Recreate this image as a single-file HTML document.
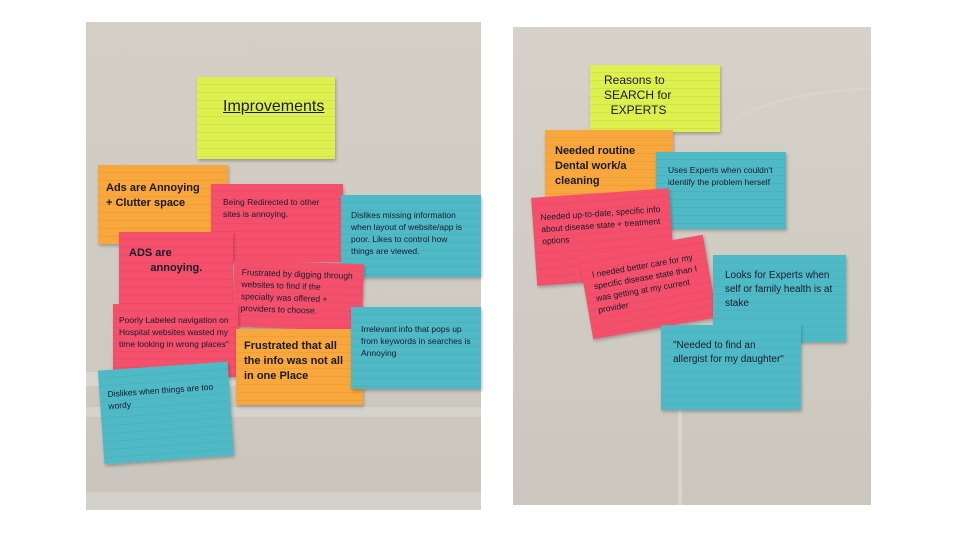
<!DOCTYPE html>
<html><head><meta charset="utf-8"><style>
body{margin:0;width:960px;height:540px;background:#fff;position:relative;overflow:hidden;font-family:"Liberation Sans",sans-serif}
.ph{position:absolute;overflow:hidden}
.n{position:absolute;box-sizing:border-box;color:#1a1a2a;font-size:8.5px;line-height:12px;padding:6px 8px;box-shadow:1px 2px 3px rgba(0,0,0,.25)}
.y{background:repeating-linear-gradient(180deg,#dcf04e 0 7px,#d0e24c 7px 8px)}
.o{background:repeating-linear-gradient(180deg,#f7a73c 0 7px,#ee9e3b 7px 8px)}
.p{background:repeating-linear-gradient(180deg,#f4506c 0 7px,#ea4c69 7px 8px)}
.b{background:repeating-linear-gradient(180deg,#4fbac6 0 7px,#49b1bf 7px 8px)}
.big{font-size:11px;font-weight:bold;line-height:15px}
</style></head><body>
<div class="ph" style="left:86px;top:22px;width:395px;height:488px;background:linear-gradient(180deg,#d3cfc7 0%,#cfcbc3 60%,#c9c5bd 100%)">
  <div style="position:absolute;left:0;top:350px;width:395px;height:14px;background:#d9d6cf"></div>
  <div style="position:absolute;left:0;top:385px;width:395px;height:10px;background:#d6d3cc"></div>
  <div style="position:absolute;left:0;top:470px;width:395px;height:18px;background:#d4d1ca"></div>
</div>
<div class="ph" style="left:513px;top:27px;width:358px;height:478px;background:linear-gradient(180deg,#d6d2ca,#cbc7bf)">
  <div style="position:absolute;left:165px;top:260px;width:4px;height:218px;background:#d9d6cf"></div>
  <div style="position:absolute;left:200px;top:60px;width:170px;height:60px;border-top:3px solid #d9d5ce;border-radius:100% 0 0 0"></div>
</div>

<div class="n y" style="left:197px;top:77px;width:138px;height:82px;font-size:16px;padding:24px 0 0 26px;text-decoration:underline">Improvements</div>
<div class="n o big" style="left:98px;top:165px;width:130px;height:79px;padding-top:16px">Ads are Annoying<br>+ Clutter space</div>
<div class="n p" style="left:211px;top:184px;width:132px;height:78px;padding:12px 12px">Being Redirected to other sites is annoying.</div>
<div class="n b" style="left:341px;top:195px;width:140px;height:82px;padding:14px 10px">Dislikes missing information when layout of website/app is poor. Likes to control how things are viewed.</div>
<div class="n p big" style="left:119px;top:232px;width:114px;height:73px;padding:14px 10px">ADS are<br>&nbsp;&nbsp;&nbsp;&nbsp;&nbsp;&nbsp;&nbsp;annoying.</div>
<div class="n p" style="left:233px;top:262px;width:130px;height:67px;padding:6px 8px;transform:rotate(2deg)">Frustrated by digging through websites to find if the specialty was offered + providers to choose.</div>
<div class="n p" style="left:113px;top:304px;width:125px;height:73px;padding:10px 6px">Poorly Labeled navigation on Hospital websites wasted my time looking in wrong places"</div>
<div class="n o big" style="left:236px;top:329px;width:127px;height:76px;padding:10px 8px">Frustrated that all the info was not all in one Place</div>
<div class="n b" style="left:351px;top:307px;width:130px;height:82px;padding:16px 10px">Irrelevant info that pops up from keywords in searches is Annoying</div>
<div class="n b" style="left:101px;top:366px;width:130px;height:94px;padding:18px 8px;transform:rotate(-4deg)">Dislikes when things are too wordy</div>

<div class="n y" style="left:590px;top:65px;width:130px;height:67px;font-size:12px;line-height:15px;padding:8px 0 0 14px">Reasons to<br>SEARCH for<br>&nbsp;&nbsp;EXPERTS</div>
<div class="n o big" style="left:545px;top:130px;width:128px;height:70px;padding:14px 10px">Needed routine Dental work/a cleaning</div>
<div class="n b" style="left:656px;top:152px;width:130px;height:77px;padding:12px 12px">Uses Experts when couldn't identify the problem herself</div>
<div class="n p" style="left:534px;top:193px;width:138px;height:88px;padding:14px 8px;transform:rotate(-4deg)">Needed up-to-date, specific info about disease state + treatment options</div>
<div class="n p" style="left:585px;top:245px;width:126px;height:84px;padding:14px 10px;transform:rotate(-10deg)">I needed better care for my specific disease state than I was getting at my current provider</div>
<div class="n b" style="left:713px;top:255px;width:133px;height:87px;padding:14px 12px;font-size:10px;line-height:14px">Looks for Experts when self or family health is at stake</div>
<div class="n b" style="left:661px;top:325px;width:140px;height:85px;padding:14px 12px;font-size:10px;line-height:14px">"Needed to find an allergist for my daughter"</div>
</body></html>
